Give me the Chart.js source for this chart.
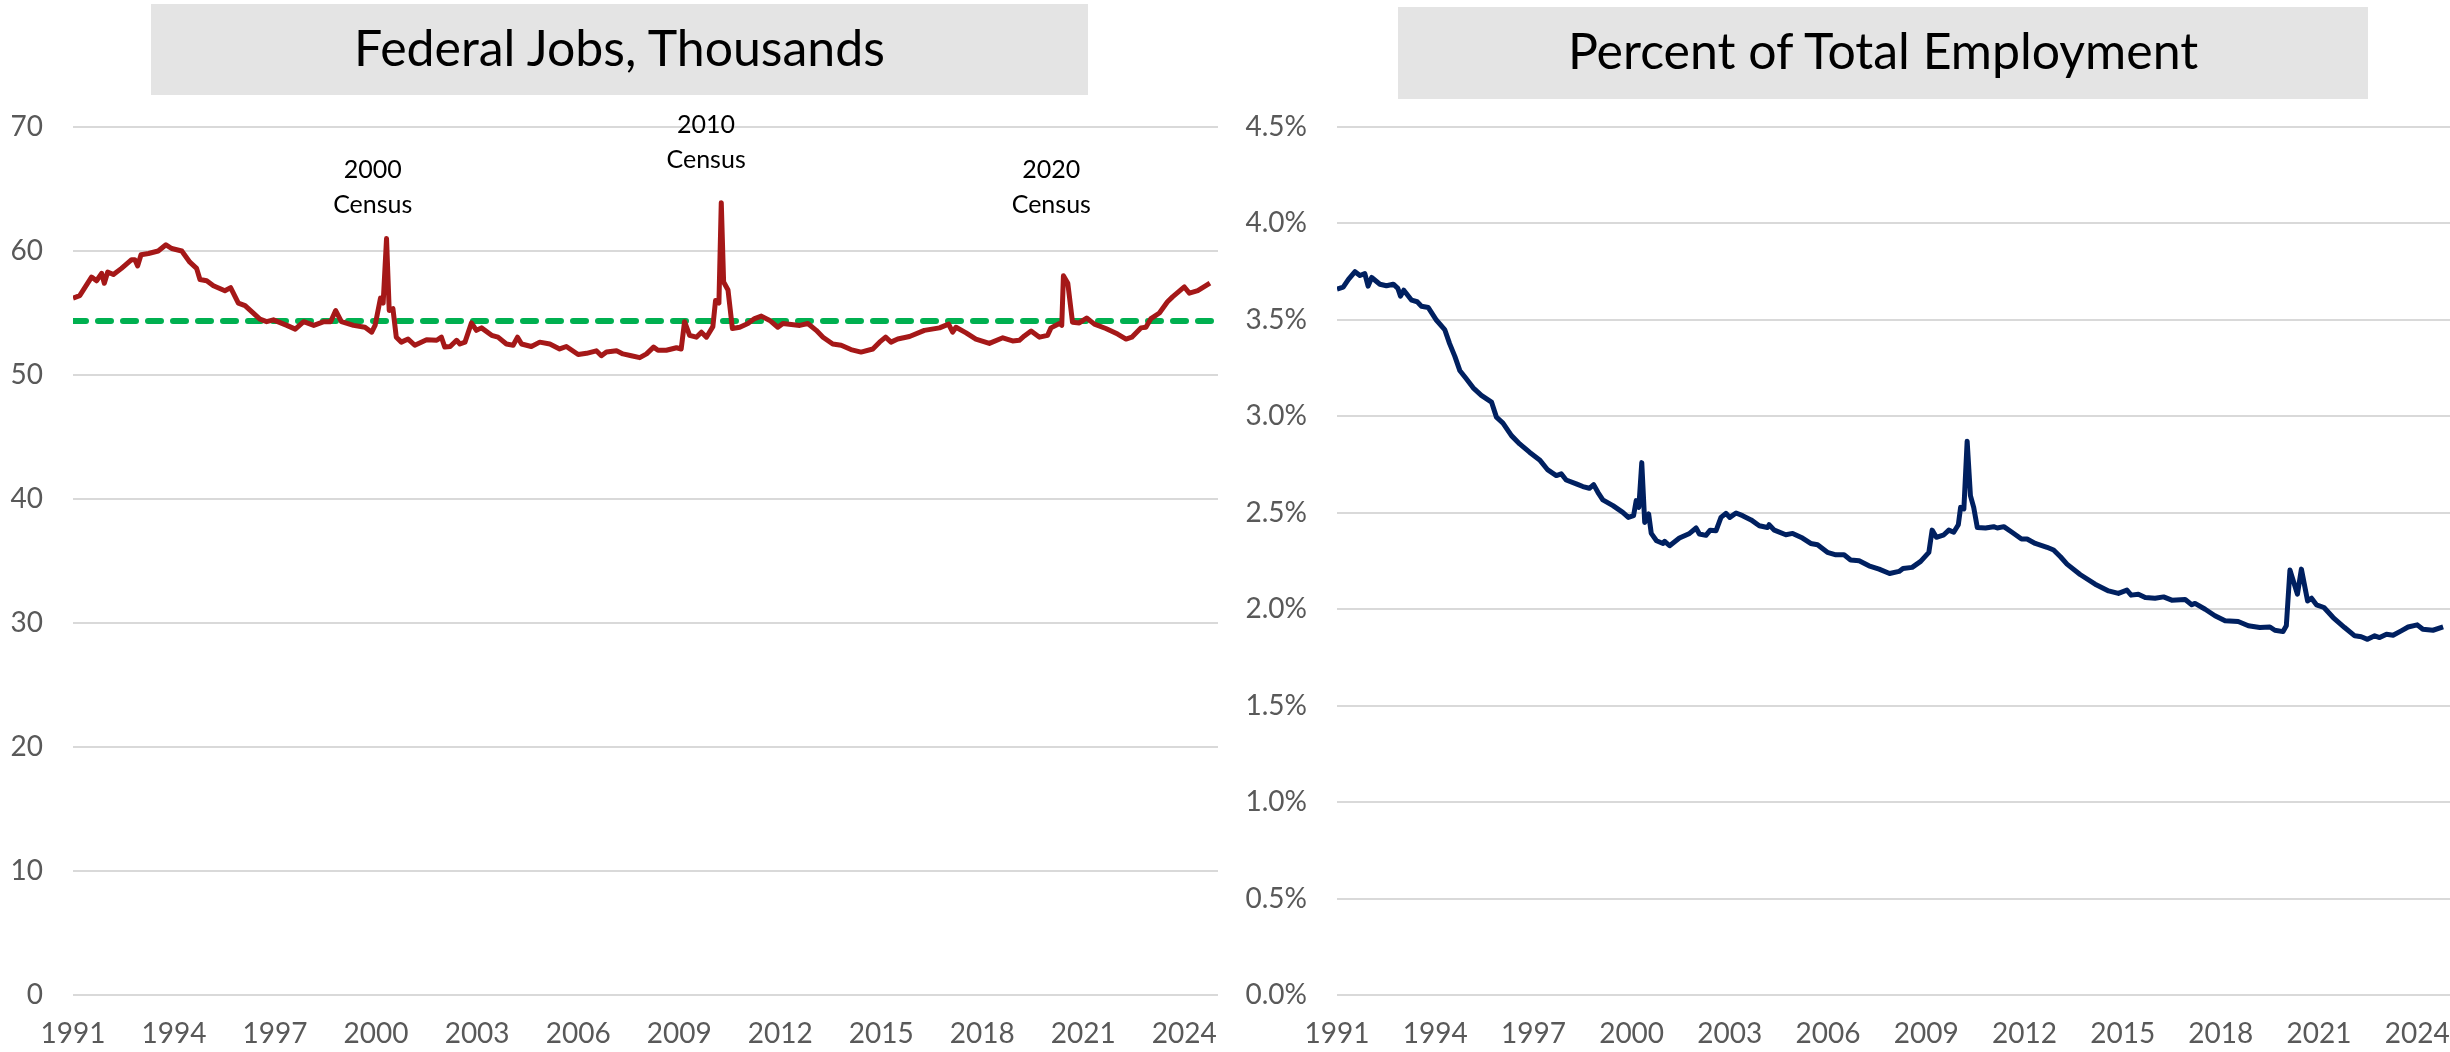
<!DOCTYPE html>
<html>
<head>
<meta charset="utf-8">
<script src="https://cdn.jsdelivr.net/npm/chart.js@4.4.1/dist/chart.umd.min.js"></script>
<style>
  body { margin: 0; background: #ffffff; width: 2450px; height: 1052px; position: relative; overflow: hidden; }
  canvas { position: absolute; top: 0; }
  .title-box {
    position: absolute; background: #e4e4e4; color: #000000;
    font-family: Lato, "Open Sans", sans-serif; font-size: 50px;
    display: flex; align-items: center; justify-content: center;
    box-sizing: border-box; padding-bottom: 6px;
  }
</style>
</head>
<body>
<canvas id="chart-jobs" width="1230" height="1052" style="left:0px;"></canvas>
<canvas id="chart-share" width="1225" height="1052" style="left:1225px;"></canvas>
<div class="title-box" style="left:151px; top:4px; width:937px; height:91px;">Federal Jobs, Thousands</div>
<div class="title-box" style="left:1398px; top:7px; width:970px; height:92px;">Percent of Total Employment</div>

<script>
// x axis labels (every 3 years)
var tickYears = [1991, 1994, 1997, 2000, 2003, 2006, 2009, 2012, 2015, 2018, 2021, 2024];

// federal jobs, thousands
var jobYears = [
  1991.0, 1991.2, 1991.55, 1991.7, 1991.85, 1991.93, 1992.03, 1992.2, 1992.44, 1992.74,
  1992.84, 1992.92, 1993.02, 1993.24, 1993.53, 1993.76, 1993.93, 1994.23, 1994.47, 1994.67,
  1994.77, 1994.97, 1995.17, 1995.51, 1995.68, 1995.91, 1996.11, 1996.55, 1996.75, 1996.95,
  1997.35, 1997.6, 1997.85, 1998.15, 1998.45, 1998.65, 1998.8, 1998.97, 1999.33, 1999.67,
  1999.87, 1999.97, 2000.13, 2000.21, 2000.31, 2000.39, 2000.5, 2000.6, 2000.75, 2000.95,
  2001.15, 2001.5, 2001.8, 2001.94, 2002.04, 2002.2, 2002.39, 2002.49, 2002.64, 2002.83,
  2002.98, 2003.13, 2003.43, 2003.62, 2003.87, 2004.07, 2004.2, 2004.32, 2004.61, 2004.86,
  2005.16, 2005.45, 2005.65, 2006.0, 2006.25, 2006.54, 2006.69, 2006.84, 2007.14, 2007.33,
  2007.58, 2007.83, 2008.03, 2008.24, 2008.37, 2008.62, 2008.92, 2009.06, 2009.16, 2009.31,
  2009.51, 2009.66, 2009.81, 2010.0, 2010.08, 2010.18, 2010.25, 2010.32, 2010.45, 2010.58,
  2010.8, 2011.04, 2011.24, 2011.44, 2011.69, 2011.93, 2012.08, 2012.58, 2012.82, 2013.07,
  2013.27, 2013.56, 2013.81, 2014.1, 2014.4, 2014.75, 2014.95, 2015.13, 2015.29, 2015.49,
  2015.84, 2016.28, 2016.73, 2017.0, 2017.12, 2017.22, 2017.52, 2017.81, 2018.21, 2018.61,
  2018.9, 2019.1, 2019.25, 2019.45, 2019.7, 2019.94, 2020.04, 2020.29, 2020.36, 2020.41,
  2020.54, 2020.68, 2020.88, 2021.1, 2021.33, 2021.67, 2022.02, 2022.27, 2022.44, 2022.71,
  2022.86, 2023.01, 2023.26, 2023.5, 2023.65, 2024.0, 2024.15, 2024.4, 2024.76
];
var jobValues = [
  56.2, 56.4, 57.9, 57.6, 58.2, 57.4, 58.3, 58.1, 58.6, 59.3,
  59.3, 58.8, 59.7, 59.8, 60.0, 60.5, 60.2, 60.0, 59.1, 58.6,
  57.7, 57.6, 57.2, 56.8, 57.05, 55.8, 55.6, 54.5, 54.3, 54.45,
  54.0, 53.7, 54.3, 54.0, 54.3, 54.3, 55.2, 54.3, 54.0, 53.85,
  53.45, 54.0, 56.2, 55.8, 61.0, 55.2, 55.35, 53.05, 52.65, 52.9,
  52.4, 52.85, 52.8, 53.05, 52.25, 52.3, 52.8, 52.5, 52.65, 54.2,
  53.6, 53.8, 53.2, 53.05, 52.5, 52.4, 53.05, 52.5, 52.3, 52.65,
  52.5, 52.1, 52.3, 51.65, 51.75, 51.95, 51.55, 51.85, 51.95, 51.7,
  51.55, 51.4, 51.7, 52.25, 52.0, 52.0, 52.2, 52.1, 54.3, 53.2,
  53.05, 53.45, 53.05, 53.9, 56.0, 55.8, 63.9, 57.5, 56.85, 53.75,
  53.85, 54.15, 54.55, 54.75, 54.4, 53.85, 54.15, 54.0, 54.15, 53.6,
  53.05, 52.5, 52.4, 52.05, 51.85, 52.1, 52.65, 53.05, 52.65, 52.9,
  53.1, 53.6, 53.8, 54.1, 53.45, 53.85, 53.4, 52.9, 52.55, 53.0,
  52.75, 52.8, 53.15, 53.55, 53.05, 53.2, 53.8, 54.15, 54.0, 58.0,
  57.4, 54.25, 54.2, 54.6, 54.1, 53.75, 53.3, 52.9, 53.05, 53.8,
  53.85, 54.55, 55.0, 55.9, 56.3, 57.1, 56.6, 56.8, 57.4
];

// long run average line
var averageJobs = 54.35;

// federal share of total employment, percent
var shareYears = [
  1991.0, 1991.19, 1991.35, 1991.55, 1991.7, 1991.85, 1991.95, 1992.06, 1992.31, 1992.51,
  1992.72, 1992.86, 1992.94, 1993.04, 1993.28, 1993.45, 1993.58, 1993.79, 1994.04, 1994.29,
  1994.44, 1994.6, 1994.75, 1994.95, 1995.16, 1995.41, 1995.72, 1995.87, 1996.07, 1996.33,
  1996.58, 1996.88, 1997.19, 1997.44, 1997.7, 1997.85, 1998.0, 1998.31, 1998.51, 1998.71,
  1998.84, 1998.97, 1999.12, 1999.43, 1999.73, 1999.9, 2000.06, 2000.14, 2000.22, 2000.31,
  2000.4, 2000.52, 2000.6, 2000.76, 2000.96, 2001.01, 2001.16, 2001.46, 2001.77, 2001.97,
  2002.07, 2002.27, 2002.4, 2002.58, 2002.73, 2002.88, 2003.0, 2003.19, 2003.39, 2003.65,
  2003.9, 2004.15, 2004.2, 2004.36, 2004.71, 2004.92, 2005.22, 2005.47, 2005.68, 2005.98,
  2006.24, 2006.49, 2006.69, 2006.95, 2007.25, 2007.56, 2007.88, 2008.17, 2008.29, 2008.57,
  2008.83, 2009.08, 2009.18, 2009.31, 2009.54, 2009.69, 2009.84, 2009.98, 2010.05, 2010.15,
  2010.25, 2010.35, 2010.45, 2010.56, 2010.81, 2011.06, 2011.17, 2011.37, 2011.62, 2011.91,
  2012.08, 2012.33, 2012.69, 2012.89, 2013.1, 2013.3, 2013.7, 2014.16, 2014.57, 2014.87,
  2015.13, 2015.26, 2015.48, 2015.69, 2015.99, 2016.25, 2016.5, 2016.91, 2017.11, 2017.21,
  2017.52, 2017.82, 2018.13, 2018.53, 2018.84, 2019.19, 2019.5, 2019.65, 2019.9, 2020.0,
  2020.11, 2020.34, 2020.46, 2020.65, 2020.77, 2020.92, 2021.15, 2021.43, 2021.78, 2022.09,
  2022.29, 2022.48, 2022.7, 2022.85, 2023.06, 2023.26, 2023.51, 2023.72, 2024.0, 2024.17,
  2024.48, 2024.79
];
var shareValues = [
  3.66, 3.67, 3.71, 3.75, 3.73, 3.74, 3.675, 3.72, 3.685, 3.677,
  3.685, 3.663, 3.623, 3.654, 3.602, 3.594, 3.571, 3.564, 3.498, 3.45,
  3.377, 3.311, 3.238, 3.195, 3.148, 3.109, 3.074, 2.996, 2.965, 2.9,
  2.857, 2.814, 2.774, 2.722, 2.693, 2.702, 2.67, 2.65, 2.636, 2.627,
  2.646, 2.606, 2.567, 2.537, 2.502, 2.476, 2.485, 2.563, 2.528, 2.76,
  2.45, 2.494, 2.393, 2.355, 2.341, 2.352, 2.329, 2.369, 2.393, 2.421,
  2.39, 2.383, 2.41, 2.407, 2.476, 2.497, 2.476, 2.499, 2.485, 2.463,
  2.433, 2.424, 2.438, 2.41, 2.386, 2.393, 2.369, 2.341, 2.334, 2.295,
  2.282, 2.282, 2.255, 2.251, 2.225, 2.208, 2.185, 2.196, 2.211, 2.217,
  2.248, 2.295, 2.41, 2.373, 2.386, 2.41, 2.399, 2.438, 2.528, 2.52,
  2.871, 2.589, 2.528, 2.424, 2.421, 2.428, 2.421, 2.428, 2.399, 2.364,
  2.364, 2.341, 2.321, 2.307, 2.272, 2.234, 2.18, 2.13, 2.095, 2.082,
  2.099, 2.073, 2.078, 2.061, 2.057, 2.064, 2.047, 2.05, 2.023, 2.03,
  2.0, 1.966, 1.94, 1.936, 1.914, 1.905, 1.908, 1.891, 1.884, 1.914,
  2.203, 2.078, 2.208, 2.043, 2.057, 2.023, 2.009, 1.957, 1.905, 1.862,
  1.857, 1.844, 1.862, 1.853, 1.87, 1.865, 1.888, 1.908, 1.919, 1.896,
  1.891, 1.908
];

// census notes on the jobs chart
var censusNotes = [
  { x: 1999.9, y: 66.5, lines: ['2000', 'Census'] },
  { x: 2009.8, y: 70.15, lines: ['2010', 'Census'] },
  { x: 2020.05, y: 66.5, lines: ['2020', 'Census'] }
];

var fontName = 'Lato, "Open Sans", sans-serif';
var gridColor = '#d9d9d9';
var tickColor = '#595959';

//builds {x, y} points from two arrays
function makePoints(xs, ys) {
  var pts = [];
  for (var i = 0; i < xs.length; i++) {
    pts.push({ x: xs[i], y: ys[i] });
  }
  return pts;
}

//plugin that writes the census notes
var censusPlugin = {
  id: 'censusNotes',
  afterDatasetsDraw: function(chart, args, opts) {
    if (!opts.notes) return;
    var ctx = chart.ctx;
    ctx.save();
    ctx.font = '25px ' + fontName;
    ctx.fillStyle = '#000000';
    ctx.textAlign = 'center';
    ctx.textBaseline = 'middle';
    opts.notes.forEach(function(note) {
      var px = chart.scales.x.getPixelForValue(note.x);
      var py = chart.scales.y.getPixelForValue(note.y);
      note.lines.forEach(function(line, k) {
        ctx.fillText(line, px, py + k * 35);
      });
    });
    ctx.restore();
  }
};

//common x axis
function xAxis() {
  return {
    type: 'linear',
    min: 1991,
    max: 2025,
    afterBuildTicks: function(scale) {
      scale.ticks = tickYears.map(function(v) { return { value: v }; });
    },
    afterFit: function(scale) {
      scale.height = 57;
      // no extra room for the edge labels
      scale.paddingLeft = 0;
      scale.paddingRight = 0;
    },
    grid: { display: false, drawTicks: false },
    border: { display: false },
    ticks: {
      color: tickColor,
      font: { family: fontName, size: 28 },
      padding: 22,
      maxRotation: 0,
      autoSkip: false,
      callback: function(v) { return String(v); }
    }
  };
}

//creates the jobs chart (left)
function createChartJobs() {
  var ctx = document.getElementById('chart-jobs');
  new Chart(ctx, {
    type: 'line',
    data: {
      datasets: [{
        label: 'Federal jobs',
        data: makePoints(jobYears, jobValues),
        borderColor: '#a51818',
        borderWidth: 5,
        borderJoinStyle: 'round',
        pointRadius: 0,
        tension: 0
      }, {
        label: 'Average',
        data: [{ x: 1991, y: averageJobs }, { x: 2025, y: averageJobs }],
        borderColor: '#00b050',
        borderWidth: 6,
        borderDash: [13, 12],
        borderCapStyle: 'round',
        pointRadius: 0
      }]
    },
    options: {
      responsive: false,
      animation: false,
      layout: { padding: { top: 127, right: 12, bottom: 0, left: 0 } },
      plugins: {
        legend: { display: false },
        tooltip: { enabled: false },
        censusNotes: { notes: censusNotes }
      },
      scales: {
        x: xAxis(),
        y: {
          min: 0,
          max: 70,
          afterFit: function(scale) { scale.width = 73; },
          grid: { color: gridColor, lineWidth: 2, drawTicks: false },
          border: { display: false },
          ticks: {
            stepSize: 10,
            color: tickColor,
            font: { family: fontName, size: 28 },
            padding: 30
          }
        }
      }
    },
    plugins: [censusPlugin]
  });
}

//creates the share chart (right)
function createChartShare() {
  var ctx = document.getElementById('chart-share');
  new Chart(ctx, {
    type: 'line',
    data: {
      datasets: [{
        label: 'Percent of total employment',
        data: makePoints(shareYears, shareValues),
        borderColor: '#002060',
        borderWidth: 5,
        borderJoinStyle: 'round',
        pointRadius: 0,
        tension: 0
      }]
    },
    options: {
      responsive: false,
      animation: false,
      layout: { padding: { top: 127, right: 0, bottom: 0, left: 0 } },
      plugins: {
        legend: { display: false },
        tooltip: { enabled: false }
      },
      scales: {
        x: xAxis(),
        y: {
          min: 0,
          max: 4.5,
          afterFit: function(scale) { scale.width = 112; },
          grid: { color: gridColor, lineWidth: 2, drawTicks: false },
          border: { display: false },
          ticks: {
            stepSize: 0.5,
            color: tickColor,
            font: { family: fontName, size: 28 },
            padding: 30,
            callback: function(v) { return v.toFixed(1) + '%'; }
          }
        }
      }
    }
  });
}

createChartJobs();
createChartShare();
</script>
</body>
</html>
